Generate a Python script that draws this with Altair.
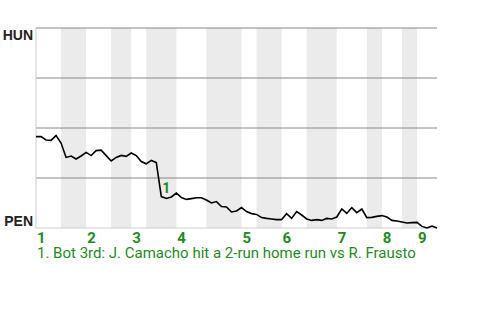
import altair as alt
import pandas as pd

# Plate-appearance index and HUN win probability (%)
pa_index = list(range(81))
hun_win_pct = [45.7, 45.7, 44.0, 43.8, 46.2, 42.5, 35.3, 36.0, 34.5, 36.0,
               37.8, 36.2, 38.7, 38.9, 36.2, 33.5, 35.3, 36.3, 35.8, 37.5,
               36.2, 33.2, 32.1, 33.8, 32.7, 15.7, 14.8, 15.5, 17.5, 15.2,
               14.3, 14.7, 15.1, 15.1, 14.0, 12.5, 13.2, 10.7, 10.5, 8.0,
               8.5, 10.2, 8.2, 7.2, 6.8, 5.2, 4.8, 4.5, 4.2, 4.2,
               7.2, 4.8, 8.2, 6.5, 4.5, 3.8, 4.2, 3.8, 4.8, 4.5,
               5.5, 9.5, 7.3, 10.2, 7.7, 9.5, 5.2, 5.3, 5.8, 6.2,
               5.5, 3.8, 3.5, 3.0, 2.5, 2.7, 2.8, 0.8, 0.0, 1.0, 0.0]

# Innings
inning_labels = ["1", "2", "3", "4", "5", "6", "7", "8", "9"]
inning_start = [0, 10, 19, 28, 41, 49, 60, 69, 76]
bottom_half_start = [5, 15, 22, 34, 44, 54, 66, 73]
bottom_half_end = [10, 19, 28, 41, 49, 60, 69, 76]

grid_values = [25, 50, 75, 100]
teams = ["HUN", "PEN"]
team_values = [100, 0]

event_labels = ["1"]
event_index = [25]
caption = "1. Bot 3rd: J. Camacho hit a 2-run home run vs R. Frausto"

GREEN = "#1f8a1f"
xs = alt.Scale(domain=[0, 80], nice=False, zero=False)
ys = alt.Scale(domain=[0, 100], nice=False)

line_df = pd.DataFrame({"pa": pa_index, "p": hun_win_pct})
band_df = pd.DataFrame({"s": bottom_half_start, "e": bottom_half_end,
                        "lo": [0] * len(bottom_half_start),
                        "hi": [100] * len(bottom_half_start)})
grid_df = pd.DataFrame({"g": grid_values})
base_df = pd.DataFrame({"g": [0], "x0": [0]})
inn_df = pd.DataFrame({"lab": inning_labels, "s": inning_start,
                       "y0": [0] * len(inning_start)})
hun_df = pd.DataFrame({"t": [teams[0]], "v": [team_values[0]], "x0": [0]})
pen_df = pd.DataFrame({"t": [teams[1]], "v": [team_values[1]], "x0": [0]})
ev_df = pd.DataFrame({"lab": event_labels,
                      "pa": [pa_index[i] for i in event_index],
                      "p": [hun_win_pct[i] for i in event_index]})
cap_df = pd.DataFrame({"c": [caption], "x0": [0], "y0": [0]})

bands = alt.Chart(band_df).mark_rect(color="#ebebeb").encode(
    x=alt.X("s:Q", scale=xs, axis=None), x2="e:Q",
    y=alt.Y("lo:Q", scale=ys, axis=None), y2="hi:Q")

grid = alt.Chart(grid_df).mark_rule(color="#888888", strokeWidth=1).encode(
    y=alt.Y("g:Q", scale=ys, axis=None))

bottom = alt.Chart(base_df).mark_rule(color="#cccccc", strokeWidth=1).encode(
    y=alt.Y("g:Q", scale=ys, axis=None))
left = alt.Chart(base_df).mark_rule(color="#cccccc", strokeWidth=1).encode(
    x=alt.X("x0:Q", scale=xs, axis=None))

line = alt.Chart(line_df).mark_line(color="#000000", strokeWidth=1.6).encode(
    x=alt.X("pa:Q", scale=xs, axis=None), y=alt.Y("p:Q", scale=ys, axis=None))

hun = alt.Chart(hun_df).mark_text(
    align="right", baseline="alphabetic", dx=-3, dy=12, fontSize=14,
    fontWeight="bold", font="Liberation Sans", color="#222222").encode(
    x=alt.X("x0:Q", scale=xs, axis=None), y=alt.Y("v:Q", scale=ys, axis=None),
    text="t:N")
pen = alt.Chart(pen_df).mark_text(
    align="right", baseline="alphabetic", dx=-3, dy=-2, fontSize=14,
    fontWeight="bold", font="Liberation Sans", color="#222222").encode(
    x=alt.X("x0:Q", scale=xs, axis=None), y=alt.Y("v:Q", scale=ys, axis=None),
    text="t:N")

inn = alt.Chart(inn_df).mark_text(
    align="left", baseline="alphabetic", dx=1, dy=15, fontSize=15,
    fontWeight="bold", font="Roboto", color=GREEN).encode(
    x=alt.X("s:Q", scale=xs, axis=None), y=alt.Y("y0:Q", scale=ys, axis=None),
    text="lab:N")

ev = alt.Chart(ev_df).mark_text(
    align="left", baseline="alphabetic", dx=1, dy=-4, fontSize=14,
    fontWeight="bold", font="Roboto", color=GREEN).encode(
    x=alt.X("pa:Q", scale=xs, axis=None), y=alt.Y("p:Q", scale=ys, axis=None),
    text="lab:N")

cap = alt.Chart(cap_df).mark_text(
    align="left", baseline="alphabetic", dx=1, dy=30, fontSize=15,
    font="Roboto", color=GREEN).encode(
    x=alt.X("x0:Q", scale=xs, axis=None), y=alt.Y("y0:Q", scale=ys, axis=None),
    text="c:N")

chart = alt.layer(bands, grid, bottom, left, line, hun, pen, inn, ev, cap).properties(
    width=401, height=200,
    padding={"left": 36, "top": 28, "right": 43, "bottom": 92},
    autosize=alt.AutoSizeParams(type="none"),
    background="white",
).configure_view(strokeWidth=0)

chart.save("out.html", embed_options={"renderer": "svg", "actions": False})
